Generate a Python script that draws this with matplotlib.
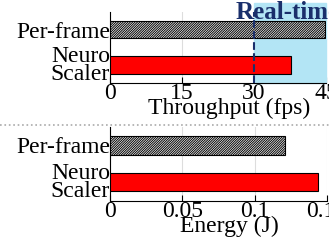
import numpy as np
import matplotlib.pyplot as plt
from matplotlib.lines import Line2D

plt.rcParams['font.family'] = ['Liberation Serif', 'DejaVu Serif']
plt.rcParams['hatch.linewidth'] = 0.7
plt.rcParams['hatch.color'] = '#333333'

methods = ['Neuro\nScaler', 'Per-frame']
throughput = [37.8, 44.7]
energy = [0.144, 0.121]
colors = ['#ff0000', 'white']
hatches = ['', '//////////////']

fig = plt.figure(figsize=(3.29, 2.43), dpi=100)
ax1 = fig.add_axes([0.334, 0.658, 0.657, 0.293])
ax2 = fig.add_axes([0.334, 0.173, 0.660, 0.304])

def draw(ax, vals, xmax, ticks, ticklabels, xlabel):
    ax.set_axisbelow(True)
    for i in range(len(methods)):
        ax.barh(i, vals[i], height=0.5, color=colors[i], hatch=hatches[i],
                edgecolor='black', linewidth=0.8, zorder=3)
    ax.set_xlim(0, xmax)
    ax.set_ylim(-0.52, 1.5)
    ax.set_yticks(range(len(methods)))
    ax.set_yticklabels(methods, fontsize=17, linespacing=0.8)
    ax.set_xticks(ticks)
    ax.set_xticklabels(ticklabels, fontsize=17)
    ax.tick_params(axis='x', direction='in', length=4, pad=0)
    ax.tick_params(axis='y', length=0, pad=0)
    ax.grid(axis='x', color='#dddddd', linewidth=0.8)
    ax.spines['top'].set_visible(False)
    ax.spines['right'].set_visible(False)
    ax.set_xlabel(xlabel, fontsize=17)
    ax.xaxis.set_label_coords(0.55, -0.2, transform=ax.transAxes)
    ax.xaxis.label.set_va('top')

draw(ax1, throughput, 45, [0, 15, 30, 45], ['0', '15', '30', '45'], 'Throughput (fps)')
draw(ax2, energy, 0.15, [0, 0.05, 0.1, 0.15], ['0', '0.05', '0.1', '0.15'], 'Energy (J)')

# real-time region
ax1.axvspan(30, 45, ymin=0, ymax=1.12, color='#b3e5f5', zorder=1, clip_on=False)
ax1.axvline(30, color='#1a2f6b', linestyle='--', linewidth=1.5, zorder=4)
ax1.text(26.2, 1.47, 'Real-time', color='#1a2f6b', fontsize=18, fontweight='bold',
         ha='left', va='center', zorder=5, clip_on=False)

# separator
fig.add_artist(Line2D([0, 1], [0.486, 0.486], color='#aaaaaa', linestyle=':', linewidth=1.2,
                      transform=fig.transFigure))

fig.savefig('out.png', dpi=100)
